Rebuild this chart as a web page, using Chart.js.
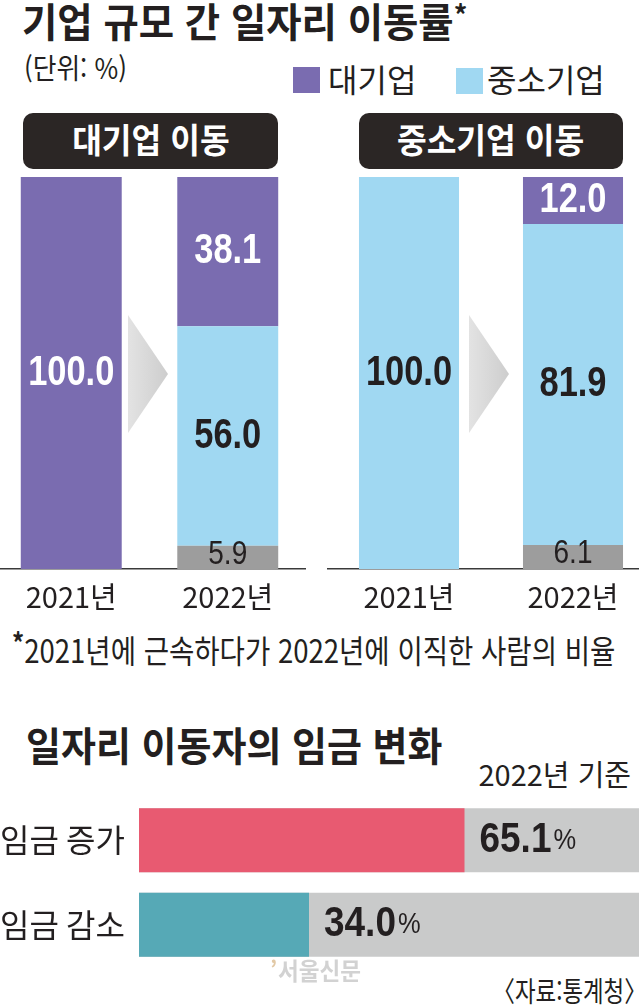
<!DOCTYPE html>
<html lang="ko">
<head>
<meta charset="utf-8">
<script src="https://cdn.jsdelivr.net/npm/chart.js@4.4.1/dist/chart.umd.min.js"></script>
<style>
  html, body { margin: 0; padding: 0; background: #fff; }
  body { width: 639px; height: 1008px; position: relative; overflow: hidden;
         font-family: 'Noto Sans CJK KR', sans-serif; color: #231f20; }
  .t { position: absolute; white-space: nowrap; line-height: 1; transform-origin: left top; }
  .r { transform-origin: right top; }
  .sq { position: absolute; width: 27px; height: 26px; }
  .head { position: absolute; top: 113px; height: 56px; background: #2b2625; border-radius: 10px;
          color: #fff; font-weight: 700; font-size: 34px; display: flex; align-items: center; justify-content: center; }
  .head span { display: inline-block; line-height: 1; transform: translateY(-2px) scaleX(0.95); }
  .arrow { position: absolute; top: 315px; width: 40px; height: 118px;
           background: linear-gradient(to right, #e3e3e3, #cdcdcd);
           clip-path: polygon(0 0, 100% 50%, 0 100%); }
  canvas { position: absolute; }
</style>
</head>
<body>

<div class="t" style="left:22px;top:0px;font-size:40px;font-weight:700;transform:scaleX(0.96)">기업 규모 간 일자리 이동률<span style="font-size:28px;vertical-align:top">*</span></div>
<div class="t" style="left:24px;top:53px;font-size:28px;transform:scaleX(0.92)">(단위: %)</div>

<div class="sq" style="left:293px;top:67px;background:#7a6cb0"></div>
<div class="t" style="left:328px;top:62px;font-size:32px">대기업</div>
<div class="sq" style="left:456px;top:68px;background:#a0d8f2"></div>
<div class="t" style="left:487px;top:62px;font-size:32px">중소기업</div>

<div class="head" style="left:23px;width:255px"><span>대기업 이동</span></div>
<div class="head" style="left:359px;width:264px"><span>중소기업 이동</span></div>

<canvas id="leftChart" width="313" height="442" style="left:-7px;top:177px"></canvas>
<canvas id="rightChart" width="328" height="442" style="left:327px;top:177px"></canvas>

<div class="arrow" style="left:128px"></div>
<div class="arrow" style="left:469px"></div>

<div class="t" style="left:12px;top:633px;font-size:32px;transform:scaleX(0.86)"><span style="font-weight:700;font-size:28px;vertical-align:top;position:relative;top:-5px">*</span>2021년에 근속하다가 2022년에 이직한 사람의 비율</div>

<div class="t" style="left:26px;top:724px;font-size:40px;font-weight:700;transform:scaleX(0.95)">일자리 이동자의 임금 변화</div>
<div class="t r" style="right:8px;top:759px;font-size:29px">2022년 기준</div>

<canvas id="wageChart" width="639" height="169" style="left:0;top:798px"></canvas>

<div class="t" style="left:270px;top:956px;font-size:22px;font-weight:700;color:#e2c9a6">’</div>
<div class="t" style="left:278px;top:958px;font-size:24px;font-weight:700;color:#d2d2d2;transform:scaleX(0.94)">서울신문</div>
<div class="t r" style="right:-8px;top:976px;font-size:28px;transform:scaleX(0.8)">〈자료:통계청〉</div>

<script>
// 데이터
const years = ['2021년', '2022년'];
// 대기업 이동 패널
const fromLarge_large = [100.0, 38.1];
const fromLarge_small = [null, 56.0];
const fromLarge_other = [null, 5.9];
// 중소기업 이동 패널
const fromSmall_large = [null, 12.0];
const fromSmall_small = [100.0, 81.9];
const fromSmall_other = [null, 6.1];
// 임금 변화
const wageLabels = ['임금 증가', '임금 감소'];
const wageShare = [65.1, 34.0];
const wageTrack = [100, 100];

const purple = '#7a6cb0';
const lightBlue = '#a0d8f2';
const gray = '#9d9d9d';
const dark = '#231f20';

// 막대 안 숫자 그리기
const barLabels = {
    id: 'barLabels',
    afterDatasetsDraw(chart) {
        const ctx = chart.ctx;
        chart.data.datasets.forEach((ds, i) => {
            const meta = chart.getDatasetMeta(i);
            meta.data.forEach((bar, j) => {
                const v = ds.data[j];
                if (v == null) return;
                const cy = (bar.y + bar.base) / 2 + (ds.labelBold ? 0 : -3);
                ctx.save();
                ctx.translate(bar.x, cy);
                ctx.scale(ds.labelBold ? 0.82 : 0.85, 1);
                ctx.font = ds.labelBold ? "bold 42px 'Liberation Sans'" : "33px 'Liberation Sans'";
                ctx.fillStyle = ds.labelColor;
                ctx.textAlign = 'center';
                ctx.textBaseline = 'middle';
                ctx.fillText(v.toFixed(1), 0, 0);
                ctx.restore();
            });
        });
    }
};

function panelChart(id, large, small, other, barPct) {
    return new Chart(document.getElementById(id), {
        type: 'bar',
        data: {
            labels: years,
            datasets: [
                { label: '기타', data: other, backgroundColor: gray, labelColor: dark, labelBold: false },
                { label: '중소기업', data: small, backgroundColor: lightBlue, labelColor: dark, labelBold: true },
                { label: '대기업', data: large, backgroundColor: purple, labelColor: '#fff', labelBold: true }
            ]
        },
        options: {
            responsive: false,
            animation: false,
            layout: { padding: 0 },
            datasets: { bar: { barPercentage: barPct, categoryPercentage: 1, borderWidth: 0 } },
            plugins: { legend: { display: false }, tooltip: { enabled: false } },
            scales: {
                x: {
                    stacked: true,
                    offset: true,
                    grid: { display: false, drawTicks: false },
                    border: { display: true, color: '#3a3a3a', width: 1.5 },
                    ticks: { color: dark, padding: 11, font: { family: "'Noto Sans CJK KR'", size: 29 } },
                    afterFit: s => { s.height = 50; }
                },
                y: { stacked: true, display: false, min: 0, max: 100 }
            }
        },
        plugins: [barLabels]
    });
}

panelChart('leftChart', fromLarge_large, fromLarge_small, fromLarge_other, 0.645);
panelChart('rightChart', fromSmall_large, fromSmall_small, fromSmall_other, 0.61);

// 임금 막대 옆 퍼센트
const wageValueLabels = {
    id: 'wageValueLabels',
    afterDatasetsDraw(chart) {
        const ctx = chart.ctx;
        const meta = chart.getDatasetMeta(0);
        meta.data.forEach((bar, j) => {
            const num = wageShare[j].toFixed(1);
            ctx.save();
            ctx.translate(bar.x + 15, bar.y);
            ctx.textBaseline = 'middle';
            ctx.textAlign = 'left';
            ctx.fillStyle = dark;
            ctx.save();
            ctx.scale(0.88, 1);
            ctx.font = "bold 42px 'Liberation Sans'";
            const w = ctx.measureText(num).width * 0.88;
            ctx.fillText(num, 0, 0);
            ctx.restore();
            ctx.scale(0.85, 1);
            ctx.font = "30px 'Liberation Sans'";
            ctx.fillText('%', (w + 2) / 0.85, 0);
            ctx.restore();
        });
    }
};

new Chart(document.getElementById('wageChart'), {
    type: 'bar',
    data: {
        labels: wageLabels,
        datasets: [
            { label: '비율', data: wageShare, backgroundColor: ['#e85a71', '#56a9b6'], grouped: false },
            { label: '전체', data: wageTrack, backgroundColor: '#c9caca', grouped: false }
        ]
    },
    options: {
        indexAxis: 'y',
        responsive: false,
        animation: false,
        layout: { padding: 0 },
        datasets: { bar: { barPercentage: 0.757, categoryPercentage: 1, borderWidth: 0 } },
        plugins: { legend: { display: false }, tooltip: { enabled: false } },
        scales: {
            x: { display: false, min: 0, max: 100 },
            y: {
                grid: { display: false, drawTicks: false },
                border: { display: false },
                ticks: { crossAlign: 'far', color: dark, font: { family: "'Noto Sans CJK KR'", size: 32 } },
                afterFit: s => {
                    s.width = 139;
                    s.paddingTop = 0;
                    s.paddingBottom = 0;
                }
            }
        }
    },
    plugins: [wageValueLabels]
});
</script>
</body>
</html>
